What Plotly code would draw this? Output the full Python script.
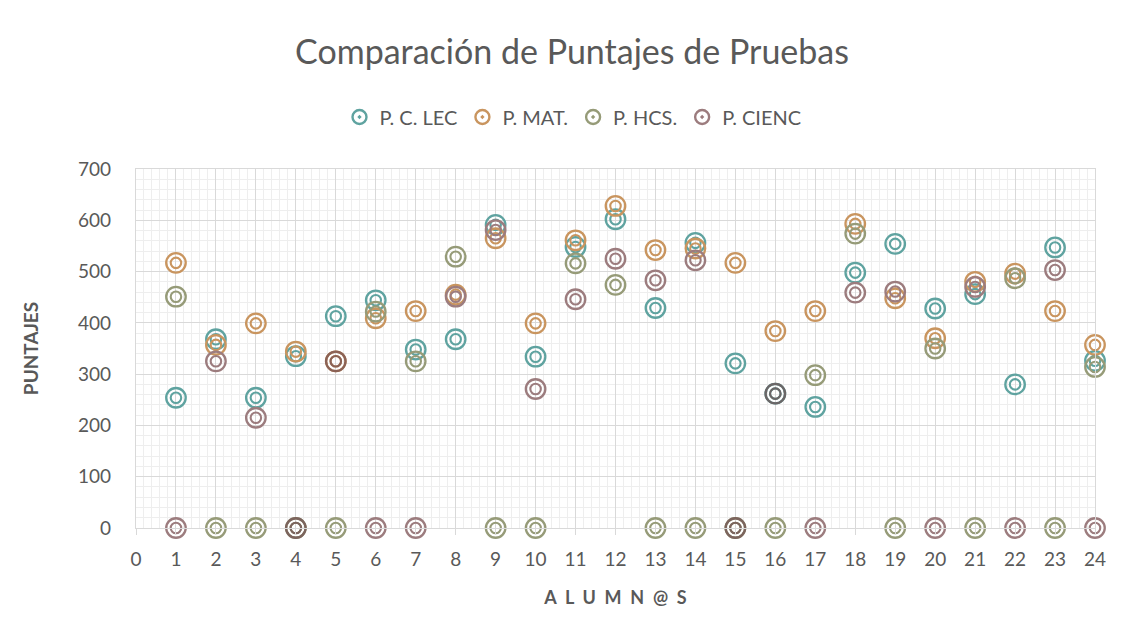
import plotly.graph_objects as go

# ---- data ----
alumnos = list(range(1, 25))
series_names = ["P. C. LEC", "P. MAT.", "P. HCS.", "P. CIENC"]
p_c_lec = [254, 368, 254, 335, 413, 444, 348, 368, 591, 334, 548, 602,
           429, 556, 321, 262, 236, 498, 554, 428, 456, 280, 547, 326]
p_mat = [517, 357, 399, 344, 325, 409, 423, 455, 565, 399, 561, 628,
         542, 545, 517, 384, 423, 593, 448, 370, 480, 496, 423, 357]
p_hcs = [451, 0, 0, 0, 0, 422, 325, 529, 0, 0, 516, 474,
         0, 0, 0, 0, 298, 574, 0, 350, 0, 487, 0, 314]
p_cienc = [0, 325, 215, 0, 325, 0, 0, 451, 581, 271, 446, 525,
           483, 522, 0, 262, 0, 459, 461, 0, 470, 0, 503, 0]
x_ticks = list(range(0, 25))
y_ticks = list(range(0, 701, 100))

all_series = [p_c_lec, p_mat, p_hcs, p_cienc]
colors = ["#5FA3A0", "#C9955F", "#969B78", "#9C7C7E"]

FONT = "Lato, Carlito, Calibri, sans-serif"
TXT = "#595959"

# page body has an 8px margin: figure is drawn 8px right/down
W, H = 1110, 621


def h2rgb(h):
    h = h.lstrip("#")
    return tuple(int(h[i:i + 2], 16) for i in (0, 2, 4))


def rgb2css(c):
    return "rgb(%d,%d,%d)" % c


fig = go.Figure()

for i, (name, vals, col) in enumerate(zip(series_names, all_series, colors)):
    base = h2rgb(col)
    pt_cols = []
    for j, v in enumerate(vals):
        c = base
        for k in range(i):
            if abs(all_series[k][j] - v) <= 3:
                other = h2rgb(colors[k])
                mult = tuple(a * b / 255 for a, b in zip(c, other))
                c = tuple(round(0.5 * a + 0.5 * m) for a, m in zip(c, mult))
        pt_cols.append(rgb2css(c))
    for size, lw in ((19.5, 2.3), (10.5, 2.1)):
        fig.add_trace(go.Scatter(
            x=alumnos, y=vals, mode="markers", name=name,
            legendgroup=name, showlegend=False, cliponaxis=False,
            marker=dict(symbol="circle-open", size=size,
                        color=pt_cols, line=dict(width=lw, color=pt_cols)),
            hoverinfo="x+y+name",
        ))
    # legend entry
    fig.add_trace(go.Scatter(
        x=[None], y=[None], mode="markers", name=name, legendgroup=name,
        marker=dict(symbol="circle-open-dot", size=14, color=col,
                    line=dict(width=2.4, color=col)),
    ))

fig.update_layout(
    width=W, height=H,
    margin=dict(l=128, r=23, t=161, b=101),
    paper_bgcolor="white", plot_bgcolor="white",
    font=dict(family=FONT, color=TXT, size=18),
    title=dict(text="Comparación de Puntajes de Pruebas",
               x=(572 - 8) / W, xanchor="center", y=1 - 44 / H,
               yanchor="middle", yref="container",
               font=dict(family=FONT, size=34, color=TXT, weight=400)),
    legend=dict(orientation="h", x=(573 - 8) / W, xanchor="center",
                xref="container", y=1 - 109 / H, yanchor="middle",
                yref="container",
                font=dict(family=FONT, size=20, color=TXT),
                itemwidth=30, tracegroupgap=0),
    xaxis=dict(range=[0, 24], tickvals=x_ticks, ticks="outside", ticklen=6,
               tickcolor="#D9D9D9", tickwidth=1.3,
               showgrid=True, gridcolor="#D9D9D9", gridwidth=1.3,
               minor=dict(dtick=0.2, showgrid=True, gridcolor="#EEEEEE",
                          gridwidth=1),
               zeroline=False, showline=True, linecolor="#D9D9D9",
               linewidth=1.3, mirror=True,
               tickfont=dict(family=FONT, size=19, color=TXT),
               ticklabelstandoff=8,
               title=dict(text="A\u00a0\u00a0L\u00a0\u00a0U\u00a0\u00a0M\u00a0\u00a0N\u00a0\u00a0@\u00a0\u00a0S",
                          font=dict(family=FONT, size=18, color=TXT,
                                    weight="bold"),
                          standoff=22)),
    yaxis=dict(range=[0, 700], tickvals=y_ticks,
               showgrid=True, gridcolor="#D9D9D9", gridwidth=1.3,
               minor=dict(dtick=20, showgrid=True, gridcolor="#EEEEEE",
                          gridwidth=1),
               zeroline=False, showline=True, linecolor="#D9D9D9",
               linewidth=1.3, mirror=True,
               tickfont=dict(family=FONT, size=19, color=TXT),
               ticklabelstandoff=20,
               title=dict(text="PUNTAJES",
                          font=dict(family=FONT, size=19, color=TXT,
                                    weight="bold"),
                          standoff=34)),
)

fig.write_html("out.html")
